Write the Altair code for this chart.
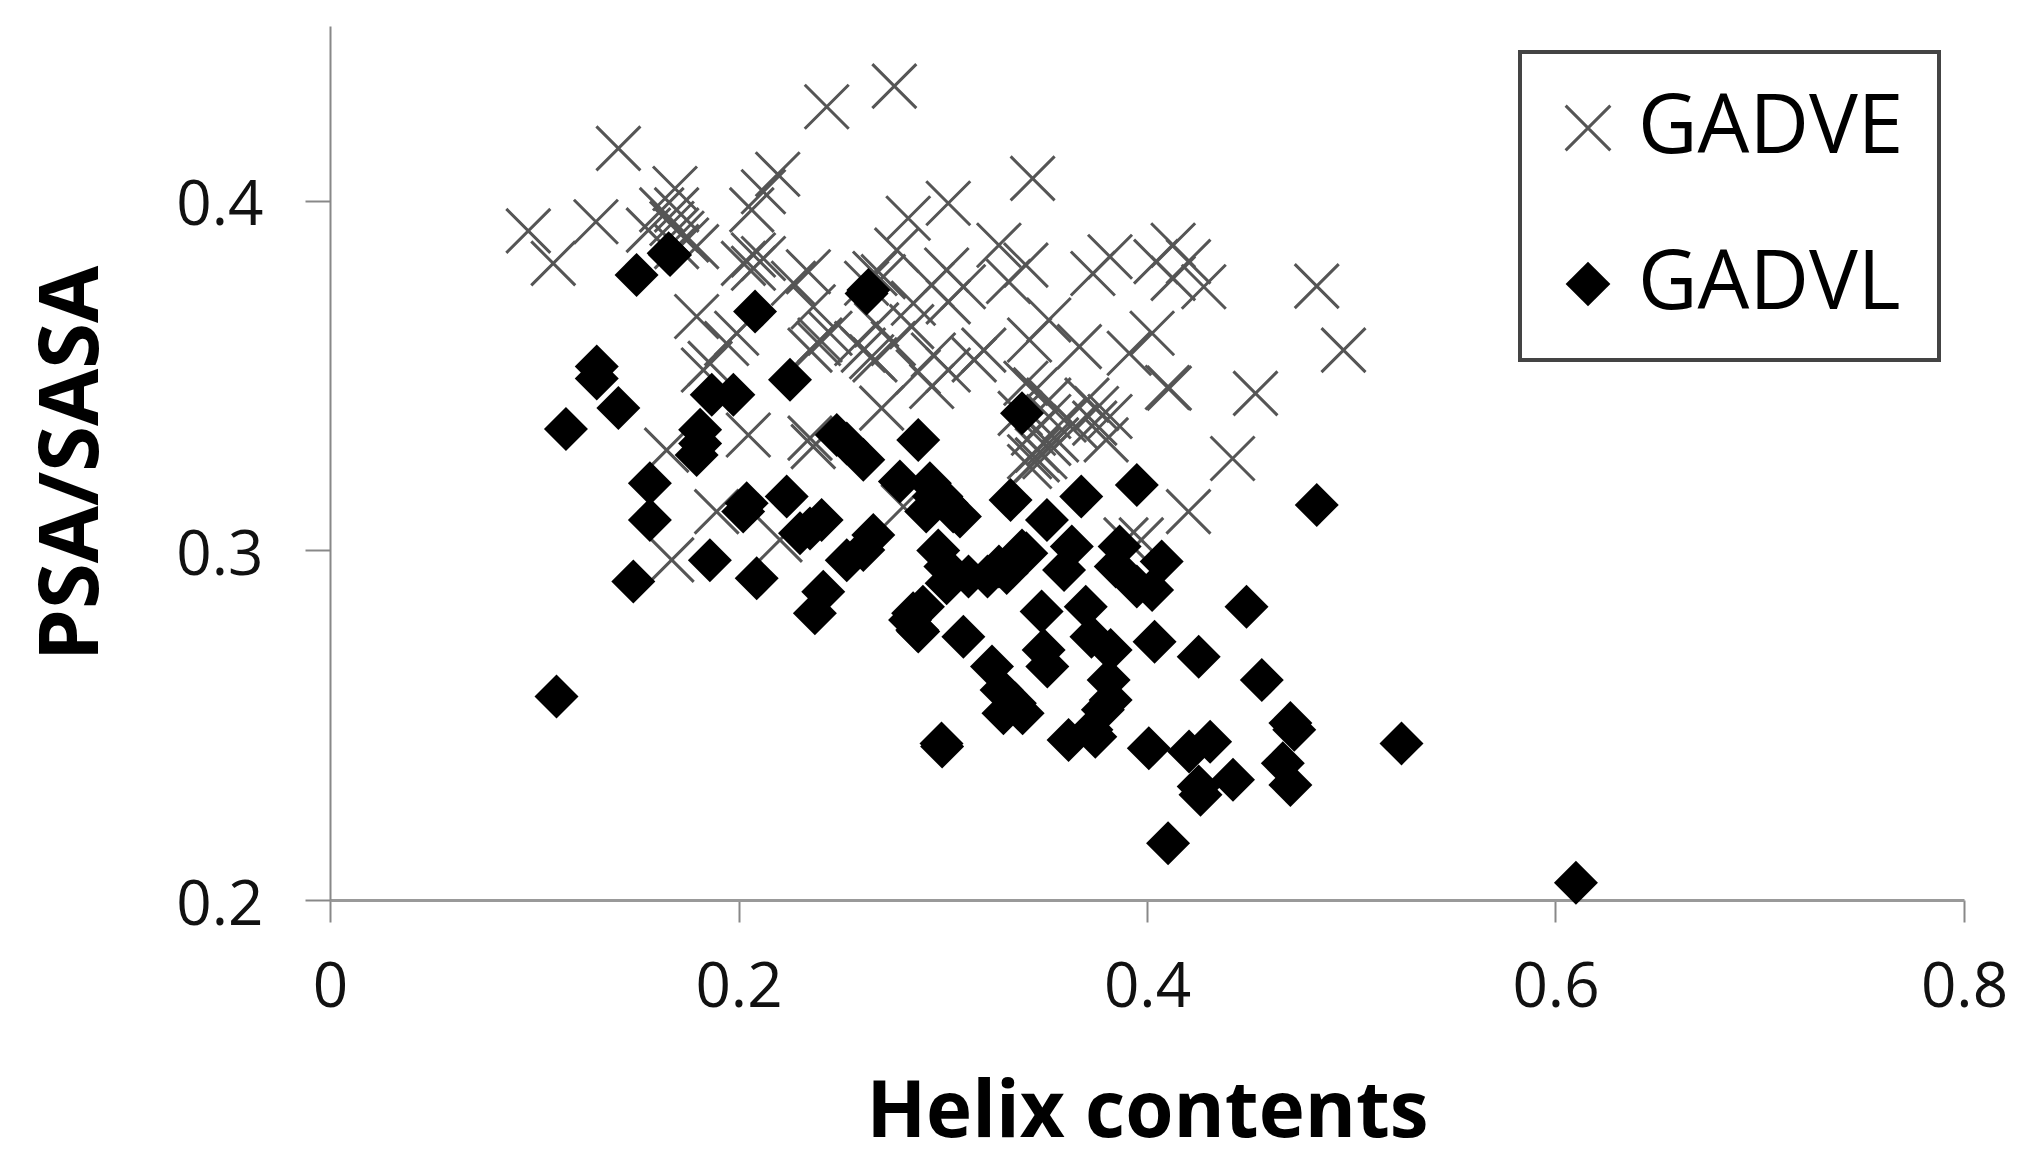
import altair as alt
import pandas as pd

gadve_x = [.2763,.2432,.1412,.1689,.2192,.2122,.0971,.1302,.1093,.2065,.1559,.1624,.1697,.1697,.1746,.1795,.1795,.1697,
           .2073,.2024,.2122,.2073,.2342,.2269,.2366,.2831,.3027,.2775,.3019,.2946,.3101,.3027,.2856,.2668,.2709,.2627,
           .1942,.1991,.1861,.1828,.2350,.2399,.2448,.2579,.2668,.2758,.2676,.2848,.2954,.2880,.3027,.2946,.2701,.2048,
           .2350,.1648,.2366,.1893,.1673,.2203,.2807,.3440,.3275,.3407,.3322,.3819,.3735,.4128,.4044,.4203,.4128,.4278,
           .4831,.4962,.3519,.4025,.3425,.3669,.3913,.4109,.4100,.4531,.4419,.4203,.3201,.3154,.3407,.3454,.3519,.3706,
           .3753,.3379,.3519,.3594,.3650,.3519,.3463,.3800,.3500,.3425,.3463,.3972,.3897,
           .2392,.2611,.2652,.1723,.1674,.3444,.3557,.3744,.3819,.3425]
gadve_y = [.4328,.4269,.4150,.4035,.4076,.4026,.3914,.3940,.3821,.3974,.3916,.3974,.3974,.3916,.3888,.3869,.3669,.3869,
           .3845,.3821,.3835,.3807,.3797,.3764,.3697,.3950,.3993,.3859,.3802,.3759,.3754,.3711,.3707,.3792,.3783,.3764,
           .3592,.3621,.3535,.3516,.3573,.3602,.3621,.3592,.3545,.3592,.3645,.3640,.3559,.3511,.3516,.3469,.3407,.3330,
           .3321,.3287,.3297,.3111,.2973,.3030,.3125,.4064,.3873,.3816,.3769,.3840,.3792,.3873,.3826,.3826,.3778,.3754,
           .3756,.3573,.3659,.3621,.3602,.3583,.3564,.3464,.3466,.3449,.3263,.3111,.3573,.3545,.3478,.3459,.3430,.3430,
           .3406,.3392,.3383,.3373,.3354,.3306,.3287,.3316,.3268,.3240,.3259,.3030,.3030,
           .3592,.3573,.3554,.3907,.3935,.3335,.3316,.3364,.3383,.3268]

gadvl_x = [.1501,.1665,.1658,.2081,.2627,.2636,.2252,.1306,.1306,.1412,.1155,.1869,.1975,.1812,.1795,.1812,.2481,.2530,
           .2611,.2880,.2790,.2937,.3019,.3084,.1566,.1566,.1485,.1860,.2089,.2023,.2040,.2236,.2301,.2407,.2350,.2660,
           .2611,.2530,.2415,.2374,.2978,.2855,.2880,.2840,.3019,.3101,.1109,.2994,.3388,.3332,.3678,.3950,.4831,.3510,
           .3632,.3594,.3866,.3847,.4072,.3950,.4025,.3013,.3126,.3275,.3388,.3219,.3313,.2957,.2919,.2994,.3051,.3409,
           .2903,.2875,.4487,.3484,.3700,.3494,.3512,.3728,.3822,.4037,.4253,.4562,.3241,.3288,.3297,.3391,.3822,.3784,
           .3728,.3616,.3747,.4009,.4206,.4309,.4702,.4721,.4665,.4702,.4421,.4262,.4253,.5246,.4103,.2997,.3812,.3353,.6100]
gadvl_y = [.3788,.3845,.3850,.3683,.3735,.3745,.3488,.3526,.3492,.3407,.3347,.3445,.3445,.3345,.3273,.3306,.3330,.3306,
           .3259,.3316,.3197,.3192,.3135,.3097,.3192,.3087,.2911,.2972,.2920,.3111,.3135,.3154,.3049,.3087,.3063,.3044,
           .3001,.2972,.2882,.2820,.3000,.2820,.2768,.2801,.2906,.2753,.2582,.2448,.3392,.3144,.3154,.3187,.3130,.3087,
           .3011,.2944,.3011,.2954,.2968,.2897,.2887,.2954,.2925,.2954,.3000,.2925,.2935,.3154,.3111,.3154,.3111,.2992,
           .2839,.2772,.2839,.2825,.2839,.2715,.2668,.2753,.2715,.2739,.2696,.2629,.2668,.2601,.2534,.2534,.2572,.2544,
           .2487,.2458,.2467,.2434,.2425,.2453,.2506,.2487,.2391,.2329,.2344,.2301,.2325,.2448,.2162,.2439,.2629,.2563,.2049]

x_ticks = [0, 0.2, 0.4, 0.6, 0.8]
y_ticks = [0.2, 0.3, 0.4]
series = ["GADVE", "GADVL"]

df = pd.concat([
    pd.DataFrame({"h": gadve_x, "p": gadve_y, "s": series[0]}),
    pd.DataFrame({"h": gadvl_x, "p": gadvl_y, "s": series[1]}),
], ignore_index=True)

FONT = "Open Sans"
CROSS = "M-1,-1L1,1M-1,1L1,-1"
legend = alt.Legend(title=None, orient="none", legendX=1190, legendY=26, strokeColor="#444444",
                    fillColor="#ffffff", padding=35, rowPadding=74, symbolSize=2000, symbolStrokeWidth=3,
                    labelFontSize=82, labelLimit=500, labelFont=FONT, labelColor="#000000", labelOffset=9,
                    symbolOffset=-8)

chart = alt.Chart(df).mark_point(size=1936, strokeWidth=3, opacity=1).encode(
    x=alt.X("h:Q", scale=alt.Scale(domain=[0, 0.8], nice=False), axis=alt.Axis(
        values=x_ticks, format=".1~f", title="Helix contents", grid=False, tickSize=22, tickWidth=2,
        tickColor="#888888", domainColor="#999999", domainWidth=3, labelFontSize=62, labelFont=FONT,
        labelColor="#111111", labelPadding=35, labelOverlap=False, labelFlush=False, titleFont=FONT,
        titleFontSize=78, titleFontWeight="bold", titleColor="#000000", titlePadding=56, titleLimit=1500)),
    y=alt.Y("p:Q", scale=alt.Scale(domain=[0.2, 0.45], nice=False, zero=False), axis=alt.Axis(
        values=y_ticks, format=".1f", title="PSA/SASA", grid=False, tickSize=25, tickWidth=2,
        tickColor="#888888", domainColor="#888888", domainWidth=2, labelFontSize=62, labelFont=FONT,
        labelColor="#111111", labelPadding=42, labelOffset=5, labelFlush=False, titleFont=FONT,
        titleFontSize=83, titleFontWeight="bold", titleColor="#000000", titlePadding=61, titleLimit=1000)),
    shape=alt.Shape("s:N", scale=alt.Scale(domain=series, range=[CROSS, "diamond"]), legend=legend),
    fill=alt.Fill("s:N", scale=alt.Scale(domain=series, range=["transparent", "#000000"]), legend=legend),
    stroke=alt.Stroke("s:N", scale=alt.Scale(domain=series, range=["#555555", "transparent"]), legend=legend),
).properties(
    width=1634, height=874,
    padding={"left": 322, "top": 18, "right": 50, "bottom": 258},
    autosize=alt.AutoSizeParams(type="none"),
).configure_view(stroke=None).configure_legend(strokeWidth=4)

chart.save("out.html", embed_options={"renderer": "svg", "actions": False})
